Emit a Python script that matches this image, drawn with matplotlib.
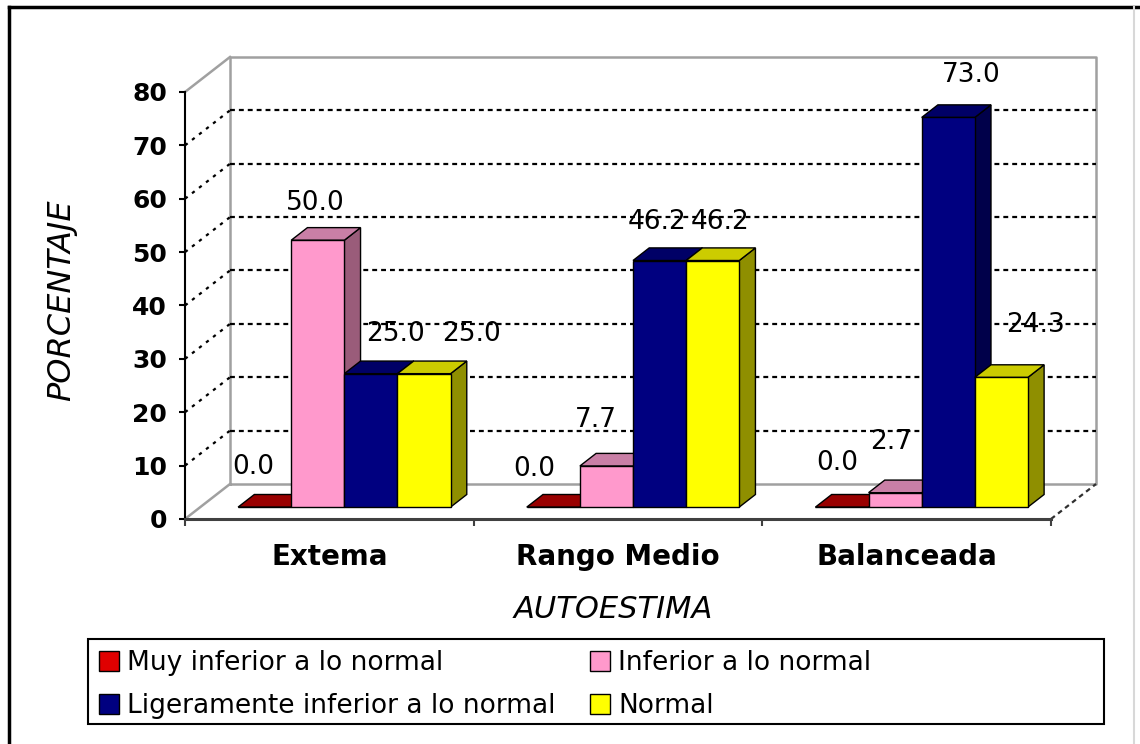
import matplotlib
matplotlib.use('Agg')
import matplotlib.pyplot as plt
from matplotlib.patches import Polygon, Rectangle, Patch
from matplotlib.lines import Line2D

plt.rcParams['font.family'] = ['DejaVu Sans']

# ---------------- data ----------------
categories = ['Extema', 'Rango Medio', 'Balanceada']
series_names = ['Muy inferior a lo normal', 'Inferior a lo normal',
                'Ligeramente inferior a lo normal', 'Normal']
muy_inferior = [0.0, 0.0, 0.0]
inferior = [50.0, 7.7, 2.7]
ligeramente_inferior = [25.0, 46.2, 73.0]
normal = [25.0, 46.2, 24.3]
y_ticks = [0, 10, 20, 30, 40, 50, 60, 70, 80]
series_values = [muy_inferior, inferior, ligeramente_inferior, normal]

# ---------------- styles ----------------
front_colors = ['#CC0000', '#FF99CC', '#000080', '#FFFF00']
top_colors = ['#990000', '#C97FA6', '#000066', '#CCCC00']
side_colors = ['#660000', '#9A5C7A', '#00004A', '#8F8F00']
legend_colors = ['#E00000', '#FF99CC', '#000080', '#FFFF00']
# label nudges (pixels) relative to front-face centre / top-back edge
label_dx = [[-11, -2, 25, 47], [-19, -11, -3, 7], [-5, -4, 23, 34]]
label_dy = [[14, 12, 14, 14], [12, 20, 13, 13], [19, 25, 17, 27]]

W, H = 1140, 744
fig = plt.figure(figsize=(W / 100, H / 100), dpi=100)
fig.patch.set_facecolor('white')

ax_left, ax_right, ax_bot, ax_top = 185, 1051, 519, 92
ax = fig.add_axes([ax_left / W, (H - ax_bot) / H,
                   (ax_right - ax_left) / W, (ax_bot - ax_top) / H])
ax.set_xlim(0, 3)
ax.set_ylim(0, 80)
ax.patch.set_visible(False)

px_x = (ax_right - ax_left) / 3.0
px_y = (ax_bot - ax_top) / 80.0
DX = 45 / px_x      # depth offset in x units
DY = 35 / px_y      # depth offset in value units
F1, F2 = 0.34, 0.70  # bar front / back depth fractions
GAP = 0.131
BW = 0.184

gray = '#A0A0A0'
# back wall
ax.plot([DX, DX, 3 + DX, 3 + DX, DX], [DY, 80 + DY, 80 + DY, DY, DY],
        color=gray, lw=1.8, clip_on=False, zorder=1)
# left side wall diagonals (0 & 80 solid gray)
for v in (0, 80):
    ax.plot([0, DX], [v, v + DY], color=gray, lw=1.8, clip_on=False, zorder=1)
# grid lines on back wall and side wall
for v in y_ticks[1:-1]:
    ax.plot([DX, 3 + DX], [v + DY, v + DY], color='black', lw=1.6,
            ls=(0, (2.2, 1.8)), clip_on=False, zorder=1)
    ax.plot([0, DX], [v, v + DY], color='black', lw=1.6,
            ls=(0, (1.5, 2.5)), clip_on=False, zorder=1)
# floor right diagonal
ax.plot([3, 3 + DX], [0, DY], color='#303030', lw=1.6, ls=(0, (2.2, 1.8)),
        clip_on=False, zorder=1)

# bars
for j, vals in enumerate(series_values):
    xl = [i + GAP + j * BW + F1 * DX for i in range(len(categories))]
    ax.bar(xl, vals, width=BW, bottom=F1 * DY, align='edge',
           color=front_colors[j], edgecolor='black', linewidth=1,
           zorder=10 + 3 * j + 2, clip_on=False)
    for i, v in enumerate(vals):
        x0 = xl[i]
        x1 = x0 + BW
        ddx = (F2 - F1) * DX
        side = Polygon([(x1, F1 * DY), (x1 + ddx, F2 * DY),
                        (x1 + ddx, v + F2 * DY), (x1, v + F1 * DY)],
                       closed=True, facecolor=side_colors[j],
                       edgecolor='black', lw=1, zorder=10 + 3 * j,
                       clip_on=False)
        top = Polygon([(x0, v + F1 * DY), (x1, v + F1 * DY),
                       (x1 + ddx, v + F2 * DY), (x0 + ddx, v + F2 * DY)],
                      closed=True, facecolor=top_colors[j],
                      edgecolor='black', lw=1, zorder=10 + 3 * j + 1,
                      clip_on=False)
        ax.add_patch(side)
        ax.add_patch(top)
        ax.annotate(f'{v:.1f}', xy=(x0 + BW / 2, v + F2 * DY),
                    xytext=(label_dx[i][j], label_dy[i][j]),
                    textcoords='offset pixels', ha='center', va='bottom',
                    fontsize=19, color='black', zorder=40,
                    annotation_clip=False)

# axes styling
for s in ('top', 'right'):
    ax.spines[s].set_visible(False)
ax.spines['left'].set_color('black')
ax.spines['left'].set_linewidth(1.5)
ax.spines['bottom'].set_color('#404040')
ax.spines['bottom'].set_linewidth(2.2)
ax.spines['bottom'].set_zorder(30)

ax.set_yticks(y_ticks)
ax.set_yticklabels([str(t) for t in y_ticks], fontsize=18, fontweight='bold')
ax.tick_params(axis='y', length=4, width=1.5, pad=9, color='black')
ax.set_xticks([0.5, 1.5, 2.5])
ax.set_xticklabels(categories, fontsize=20, fontweight='bold')
ax.tick_params(axis='x', which='major', length=0, pad=17)
ax.set_xticks([0, 1, 2, 3], minor=True)
ax.tick_params(axis='x', which='minor', length=5, width=1.5, color='#404040')

fig.text(62 / W, 1 - 300 / H, 'PORCENTAJE', rotation=90, ha='center',
         va='center', fontsize=23, style='italic')
fig.text(613 / W, 1 - 610 / H, 'AUTOESTIMA', ha='center', va='center',
         fontsize=22, style='italic')

# legend
handles = [Patch(facecolor=c, edgecolor='black', linewidth=1)
           for c in legend_colors]
leg_kw = dict(frameon=False, fontsize=19, handlelength=0.76,
              handleheight=0.76, handletextpad=0.3, labelspacing=0.66,
              borderpad=0, borderaxespad=0, loc='upper left')
leg1 = fig.legend([handles[0], handles[2]], [series_names[0], series_names[2]],
                  bbox_to_anchor=(99 / W, 1 - 650 / H), **leg_kw)
leg2 = fig.legend([handles[1], handles[3]], [series_names[1], series_names[3]],
                  bbox_to_anchor=(590 / W, 1 - 650 / H), **leg_kw)
fig.add_artist(Rectangle((88 / W, 1 - 724 / H), (1104 - 88) / W,
                         (724 - 639) / H, transform=fig.transFigure,
                         fill=False, edgecolor='black', lw=1.5))

# outer frame
fig.add_artist(Line2D([9 / W, 9 / W], [0, 1 - 7 / H], color='black', lw=2.5,
                      transform=fig.transFigure))
fig.add_artist(Line2D([9 / W, 1], [1 - 7 / H, 1 - 7 / H], color='black',
                      lw=2.5, transform=fig.transFigure))
fig.add_artist(Line2D([1134 / W, 1134 / W], [0, 1 - 7 / H], color='#D8D8D8',
                      lw=1.5, transform=fig.transFigure))

fig.savefig('out.png', dpi=100)
